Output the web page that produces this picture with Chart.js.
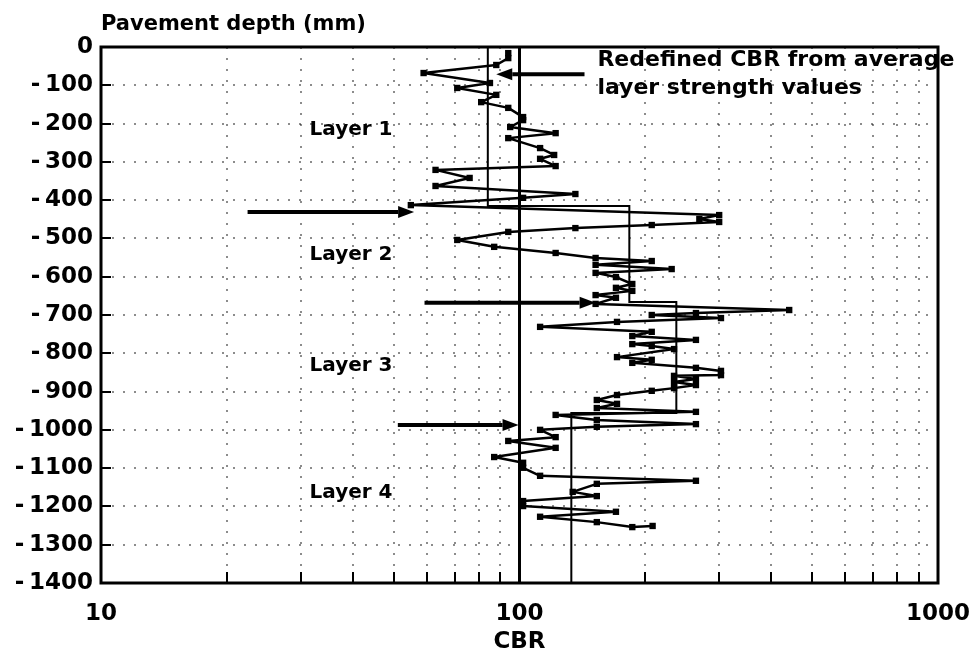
<!DOCTYPE html>
<html>
<head>
<meta charset="utf-8">
<title>Pavement depth vs CBR</title>
<script src="https://cdn.jsdelivr.net/npm/chart.js@4.4.1/dist/chart.umd.min.js"></script>
<style>
  html, body { margin: 0; padding: 0; background: #fff; }
  canvas { display: block; }
</style>
</head>
<body>
<canvas id="cbrChart" width="975" height="660"></canvas>
<script>
// measured CBR profile (depth in mm, negative down)
const cbrValues = [
  94, 94, 88, 59, 85, 71, 88, 81, 94, 102, 102, 95, 122, 94, 112, 121, 112, 122, 63, 76,
  63, 136, 102, 55, 300, 269, 300, 207, 136, 94, 71, 87, 122, 152, 207, 152, 231, 152, 170, 186,
  170, 186, 152, 170, 152, 441, 264, 207, 303, 171, 112, 207, 186, 264, 186, 207, 234, 171, 207, 186,
  264, 303, 303, 234, 264, 234, 264, 234, 207, 171, 153, 171, 153, 264, 122, 153, 264, 153, 112, 122,
  94, 122, 87, 102, 102, 112, 264, 153, 134, 153, 102, 102, 170, 112, 153, 186, 208
];
const depthValues = [
  -16, -29, -47, -68, -94, -107, -125, -144, -159, -183, -191, -209, -225, -238, -264, -282, -292, -311, -321, -342,
  -363, -384, -394, -413, -439, -449, -457, -465, -473, -483, -504, -522, -538, -551, -559, -569, -580, -590, -601, -619,
  -629, -637, -648, -655, -671, -687, -695, -700, -708, -718, -731, -744, -755, -765, -776, -781, -789, -810, -817, -825,
  -838, -846, -857, -859, -867, -875, -883, -891, -898, -909, -922, -932, -943, -953, -961, -974, -985, -992, -1000, -1019,
  -1029, -1047, -1071, -1086, -1099, -1120, -1133, -1141, -1162, -1173, -1186, -1199, -1214, -1227, -1241, -1254, -1251
];

// redefined CBR from average layer strength, and layer boundaries (mm)
const layerCBR = [84, 183, 237, 133];
const layerBounds = [0, -415, -666, -956, -1400];
const layerNames = ["Layer 1", "Layer 2", "Layer 3", "Layer 4"];
const layerLabelDepth = [-217, -543, -833, -1165];
const layerLabelCBR = 31.5;

// reference line at CBR 100
const refCBR = 100;

// arrows: start CBR, end CBR (tip), depth
const arrowFrom = [143, 22.4, 59.3, 51.2];
const arrowTo = [88, 56, 152, 99.5];
const arrowDepth = [-71, -431, -668, -987];

// note text
const noteLines = ["Redefined CBR from average", "layer strength values"];
const noteCBR = 153.5;
const noteDepth = [-34, -107];

// axes
const xTickValues = [10, 20, 30, 40, 50, 60, 70, 80, 90, 100, 200, 300, 400, 500, 600, 700, 800, 900, 1000];
const xLabelValues = [10, 100, 1000];
const yMin = -1400;
const yMax = 0;
const yStep = 100;

const FONT = "'DejaVu Sans', 'Liberation Sans', sans-serif";

const profileData = cbrValues.map((v, i) => ({ x: v, y: depthValues[i] }));
const stepData = [];
layerCBR.forEach((v, i) => {
  stepData.push({ x: v, y: layerBounds[i] }, { x: v, y: layerBounds[i + 1] });
});
const refData = [{ x: refCBR, y: yMax }, { x: refCBR, y: yMin }];

// extra drawing: frame, inner ticks, arrows and texts
const decorPlugin = {
  id: "decor",
  afterDatasetsDraw(chart) {
    const ctx = chart.ctx;
    const area = chart.chartArea;
    const xs = chart.scales.x;
    const ys = chart.scales.y;
    ctx.save();
    ctx.strokeStyle = "#000";
    ctx.fillStyle = "#000";

    // inner ticks
    ctx.lineWidth = 2;
    xTickValues.forEach((v) => {
      const px = Math.round(xs.getPixelForValue(v));
      ctx.beginPath();
      ctx.moveTo(px, area.bottom);
      ctx.lineTo(px, area.bottom - 11);
      ctx.stroke();
    });
    for (let v = yMax; v >= yMin; v -= yStep) {
      const py = Math.round(ys.getPixelForValue(v));
      ctx.beginPath();
      ctx.moveTo(area.left, py);
      ctx.lineTo(area.left + 10, py);
      ctx.stroke();
    }

    // frame
    ctx.lineWidth = 3;
    ctx.strokeRect(area.left, area.top, area.right - area.left, area.bottom - area.top);

    // arrows
    arrowFrom.forEach((from, i) => {
      const x1 = xs.getPixelForValue(from);
      const x2 = xs.getPixelForValue(arrowTo[i]);
      const y = ys.getPixelForValue(arrowDepth[i]);
      const dir = x2 > x1 ? 1 : -1;
      const head = 16;
      ctx.lineWidth = 4;
      ctx.beginPath();
      ctx.moveTo(x1, y);
      ctx.lineTo(x2 - dir * head, y);
      ctx.stroke();
      ctx.beginPath();
      ctx.moveTo(x2, y);
      ctx.lineTo(x2 - dir * head, y - 6);
      ctx.lineTo(x2 - dir * head, y + 6);
      ctx.closePath();
      ctx.fill();
    });

    // texts
    ctx.textBaseline = "middle";
    ctx.textAlign = "left";
    ctx.font = "bold 20px " + FONT;
    layerNames.forEach((name, i) => {
      ctx.fillText(name, xs.getPixelForValue(layerLabelCBR), ys.getPixelForValue(layerLabelDepth[i]));
    });
    ctx.font = "bold 22px " + FONT;
    noteLines.forEach((line, i) => {
      ctx.fillText(line, xs.getPixelForValue(noteCBR), ys.getPixelForValue(noteDepth[i]));
    });
    ctx.font = "bold 21px " + FONT;
    ctx.fillText("Pavement depth (mm)", area.left, 25);
    ctx.restore();
  }
};

new Chart(document.getElementById("cbrChart").getContext("2d"), {
  type: "scatter",
  data: {
    datasets: [
      {
        label: "Measured CBR",
        data: profileData,
        showLine: true,
        borderColor: "#000",
        backgroundColor: "#000",
        borderWidth: 2.5,
        borderJoinStyle: "round",
        borderCapStyle: "round",
        pointStyle: "rect",
        pointRadius: 4.5,
        pointBorderWidth: 0,
        pointBackgroundColor: "#000",
        tension: 0,
      },
      {
        label: "Redefined CBR",
        data: stepData,
        showLine: true,
        borderColor: "#000",
        borderWidth: 2,
        pointRadius: 0,
      },
      {
        label: "CBR 100",
        data: refData,
        showLine: true,
        borderColor: "#000",
        borderWidth: 3,
        pointRadius: 0,
      },
    ],
  },
  options: {
    responsive: false,
    animation: false,
    events: [],
    layout: { padding: { top: 47, right: 37, left: 0, bottom: 0 } },
    plugins: {
      legend: { display: false },
      tooltip: { enabled: false },
    },
    scales: {
      x: {
        type: "logarithmic",
        min: 10,
        max: 1000,
        afterBuildTicks: (scale) => {
          scale.ticks = xTickValues.map((v) => ({ value: v }));
        },
        afterFit: (scale) => {
          scale.height = 77;
          scale.paddingLeft = 0;
          scale.paddingRight = 0;
        },
        grid: { color: "rgba(0,0,0,0.45)", lineWidth: 2, drawTicks: false },
        border: { display: false, dash: [2, 9] },
        ticks: {
          autoSkip: false,
          maxRotation: 0,
          padding: 17,
          color: "#000",
          font: { family: FONT, size: 23, weight: "bold" },
          callback: (v) => (xLabelValues.includes(v) ? String(v) : ""),
        },
        title: {
          display: true,
          text: "CBR",
          color: "#000",
          font: { family: FONT, size: 23, weight: "bold" },
          padding: { top: 0, bottom: 4 },
        },
      },
      y: {
        type: "linear",
        min: yMin,
        max: yMax,
        afterFit: (scale) => {
          scale.width = 101;
          scale.paddingTop = 0;
          scale.paddingBottom = 0;
        },
        grid: { color: "rgba(0,0,0,0.45)", lineWidth: 2, drawTicks: false },
        border: { display: false, dash: [2, 9] },
        ticks: {
          stepSize: yStep,
          padding: 8,
          color: "#000",
          font: { family: FONT, size: 23, weight: "bold" },
          callback: (v) => (v === 0 ? "0" : "-\u2009" + Math.abs(v)),
        },
      },
    },
  },
  plugins: [decorPlugin],
});
</script>
</body>
</html>
